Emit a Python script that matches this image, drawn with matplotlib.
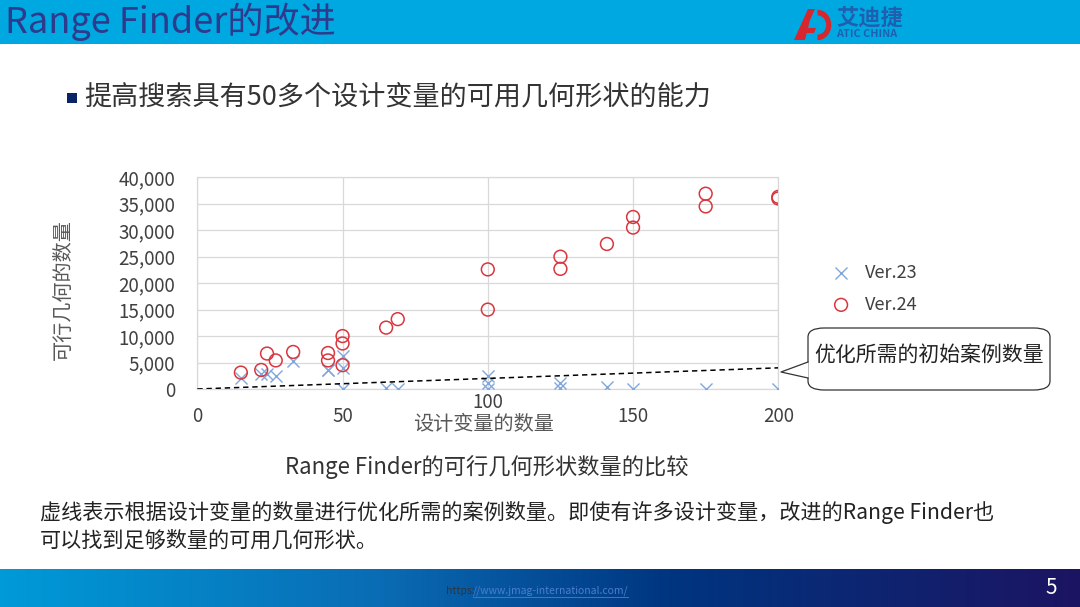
import numpy as np
import matplotlib
matplotlib.use("Agg")
import matplotlib.pyplot as plt
from matplotlib.patches import Rectangle, FancyBboxPatch, Polygon, Wedge
from matplotlib.lines import Line2D
from matplotlib.transforms import ScaledTranslation

plt.rcParams['font.family'] = ['Noto Sans CJK SC', 'DejaVu Sans']

# ---------------- data ----------------
v23_x = [15, 22, 24, 27, 33, 45, 45, 50, 50, 50, 65, 69, 100, 100, 100, 125, 125, 141, 150, 175, 200]
v23_y = [2000, 2800, 2800, 2500, 5300, 3600, 3500, 6200, 4000, 0, 100, 0, 2500, 1100, 0, 1100, 100, 400, 0, 0, 0]

v24_x = [15, 22, 24, 27, 33, 45, 45, 50, 50, 50, 65, 69, 100, 100, 125, 125, 141, 150, 150, 175, 175, 200, 200]
v24_y = [3100, 3600, 6700, 5400, 7000, 6800, 5400, 10000, 8600, 4500, 11600, 13200, 22600, 15000,
         25000, 22700, 27400, 32500, 30500, 36900, 34500, 36300, 36000]

case_x = [0, 200]
case_y = [0, 4000]

x_ticks = [0, 50, 100, 150, 200]
y_ticks = [0, 5000, 10000, 15000, 20000, 25000, 30000, 35000, 40000]

W, H = 1080, 607


def fx(x):
    return x / W


def fy(y):
    return 1 - y / H


fig = plt.figure(figsize=(W / 100, H / 100), dpi=100)
fig.patch.set_facecolor('white')

# ---------------- slide decoration ----------------
fig.patches.append(Rectangle((0, fy(44)), 1, 44 / H, transform=fig.transFigure,
                             facecolor='#00a8e1', edgecolor='none', zorder=-2))
fig.text(fx(5), fy(22), 'Range Finder的改进', fontsize=26, color='#2e3a8c',
         va='center', ha='left')

# logo
fig.patches.append(Polygon([(fx(794), fy(40)), (fx(808), fy(9)), (fx(815), fy(9)),
                            (fx(810), fy(20)), (fx(805), fy(40))],
                           closed=True, transform=fig.transFigure,
                           facecolor='#d7262e', edgecolor='none'))
fig.patches.append(Polygon([(fx(804), fy(28)), (fx(816), fy(28)), (fx(814), fy(33)), (fx(802), fy(33))],
                           closed=True, transform=fig.transFigure,
                           facecolor='#d7262e', edgecolor='none'))
logo_ax = fig.add_axes([fx(803), fy(41), 29 / W, 32 / H], zorder=3)
logo_ax.set_xlim(-1, 1)
logo_ax.set_ylim(-1, 1)
logo_ax.axis('off')
logo_ax.add_patch(Wedge((0, 0), 0.95, -90, 90, width=0.35, facecolor='#d7262e', edgecolor='none'))
fig.text(fx(836), fy(18), '艾迪捷', fontsize=16, color='#1f5fb0', va='center', ha='left',
         fontweight='bold')
fig.text(fx(836), fy(34), 'ATIC CHINA', fontsize=7.8, color='#1f5fb0', va='center', ha='left',
         fontweight='bold')

# bullet heading
fig.patches.append(Rectangle((fx(67), fy(103)), 10 / W, 10 / H, transform=fig.transFigure,
                             facecolor='#0a2566', edgecolor='none'))
fig.text(fx(84), fy(97), '提高搜索具有50多个设计变量的可用几何形状的能力', fontsize=19.5,
         color='#333333', va='center', ha='left')

# caption and note
fig.text(fx(487), fy(467), 'Range Finder的可行几何形状数量的比较', fontsize=16,
         color='#333333', va='center', ha='center')
fig.text(fx(40), fy(513), '虚线表示根据设计变量的数量进行优化所需的案例数量。即使有许多设计变量，改进的Range Finder也',
         fontsize=15.2, color='#222222', va='center', ha='left')
fig.text(fx(40), fy(540), '可以找到足够数量的可用几何形状。',
         fontsize=15.2, color='#222222', va='center', ha='left')

# bottom bar with gradient
bar_ax = fig.add_axes([0, 0, 1, 38 / H])
grad = np.linspace(0, 1, 512).reshape(1, -1)
cmap = matplotlib.colors.LinearSegmentedColormap.from_list(
    'bar', [(0, '#009ad8'), (0.35, '#0a6cb4'), (0.62, '#003580'), (1, '#1c1462')])
bar_ax.imshow(grad, aspect='auto', cmap=cmap, extent=[0, 1, 0, 1])
bar_ax.axis('off')
fig.text(fx(446), fy(591), 'https:', fontsize=7.5, color='#333333', va='center', ha='left')
fig.text(fx(473), fy(591), '//www.jmag-international.com/', fontsize=7.5, color='#4a7ed0',
         va='center', ha='left')
fig.add_artist(Line2D([fx(473), fx(628)], [fy(597), fy(597)], transform=fig.transFigure,
                      color='#4a7ed0', lw=0.6))
fig.text(fx(1051), fy(588), '5', fontsize=15, color='white', va='center', ha='center')

# ---------------- chart ----------------
ax = fig.add_axes([fx(197.3), fy(389), (778.3 - 197.3) / W, (389 - 177.3) / H])
ax.scatter(v23_x, v23_y, marker='x', s=75, color='#7fa7dc', linewidths=1.0,
           label='Ver.23', zorder=3)
ax.scatter(v24_x, v24_y, marker='o', s=85, facecolors='none', edgecolors='#d9363e',
           linewidths=1.1, label='Ver.24', zorder=4)
ax.plot(case_x, case_y, color='black', lw=1.1, linestyle=(0, (3.5, 2.5)), zorder=5)

ax.set_xlim(0, 200)
ax.set_ylim(0, 40000)
ax.set_xticks(x_ticks)
ax.set_yticks(y_ticks)
ax.set_yticklabels([f'{v:,}' for v in y_ticks])
ax.grid(True, color='#d9d9d9', lw=0.9)
ax.set_axisbelow(True)
for s in ax.spines.values():
    s.set_color('#d9d9d9')
    s.set_linewidth(0.9)
ax.tick_params(length=0, labelsize=13.5, labelcolor='#404040')
ax.tick_params(axis='x', pad=12)
ax.tick_params(axis='y', pad=16)
xt = ax.xaxis.get_major_ticks()
xt[2].label1.set_transform(xt[2].label1.get_transform() + ScaledTranslation(0, 14 / 100, fig.dpi_scale_trans))

fig.text(fx(63), fy(290), '可行几何的数量', fontsize=14.5, color='#595959',
         rotation=90, va='center', ha='center')
fig.text(fx(484), fy(424), '设计变量的数量', fontsize=14.5, color='#595959',
         va='center', ha='center')

leg = fig.legend(loc='upper left', bbox_to_anchor=(fx(814), fy(255)), frameon=False,
                 fontsize=13, labelspacing=0.75, handletextpad=0.3, borderpad=0)
for t in leg.get_texts():
    t.set_color('#404040')

# callout
box = FancyBboxPatch((fx(808), fy(390)), (1050 - 808) / W, (390 - 328) / H,
                     boxstyle='round,pad=0,rounding_size=0.015', transform=fig.transFigure,
                     facecolor='white', edgecolor='#333333', lw=0.9, zorder=6)
fig.patches.append(box)
tri = Polygon([(fx(808.5), fy(362)), (fx(781), fy(372)), (fx(808.5), fy(378))], closed=True,
              transform=fig.transFigure, facecolor='white', edgecolor='none', zorder=7)
fig.patches.append(tri)
fig.add_artist(Line2D([fx(808), fx(781), fx(808)], [fy(362), fy(372), fy(378)],
                      transform=fig.transFigure, color='#333333', lw=0.9, zorder=8))
fig.text(fx(929), fy(355), '优化所需的初始案例数量', fontsize=15, color='#222222',
         va='center', ha='center', zorder=9)

fig.savefig('out.png', dpi=100)
